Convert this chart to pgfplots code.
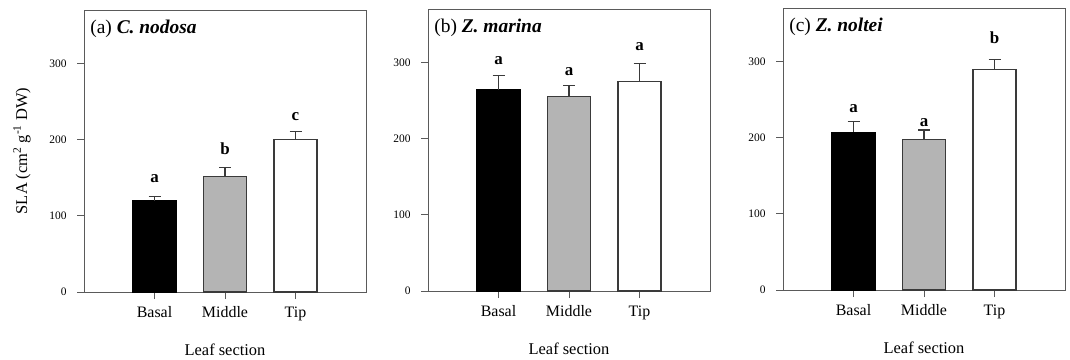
\documentclass[border=0pt]{standalone}
\usepackage{fontspec}
\setmainfont{Liberation Serif}
\usepackage{pgfplots}
\pgfplotsset{compat=1.18}
\definecolor{axisgray}{HTML}{5A5A5A}
\definecolor{bardark}{HTML}{3A3A3A}
\definecolor{midgray}{HTML}{B4B4B4}

\pgfplotstableread{
x y e
1 120 5.5
2 151 12.8
3 200 10.6
}\dataA
\pgfplotstableread{
x y e
1 264 18.5
2 255 15.0
3 275 23.5
}\dataB
\pgfplotstableread{
x y e
1 207 14.5
2 197 13.0
3 289 13.0
}\dataC

\newcommand{\tk}{\fontsize{11.5}{13}\selectfont}
\pgfplotsset{
  panel/.style={
    scale only axis, width=282bp, height=282bp,
    xmin=0, xmax=4, ymin=0, ymax=370,
    xtick={1,2,3}, xticklabels={Basal,Middle,Tip},
    ytick={0,100,200,300}, yticklabels={{\tk 0},{\tk 100},{\tk 200},{\tk 300}},
    axis line style={color=axisgray, line width=0.9bp},
    every tick/.style={color=axisgray, line width=0.9bp},
    tick align=outside,
    major tick length=7bp,
    xtick pos=bottom, ytick pos=left,
    every y tick label/.append style={font=\tk, xshift=-7bp},
    every x tick label/.append style={font=\fontsize{16}{18}\selectfont, yshift=-4bp},
    /pgf/number format/assume math mode=true,
    xlabel={Leaf section},
    xlabel style={font=\fontsize{16.5}{18}\selectfont, anchor=base, at={(axis description cs:0.5,-0.225)}},
    ylabel style={font=\fontsize{16.5}{18}\selectfont, anchor=center, at={(axis description cs:-0.22,0.5)}},
  },
  barA/.style={ybar, bar shift=0pt, bar width=43bp, line width=1.1bp,
    error bars/y dir=plus, error bars/y explicit,
    error bars/error bar style={color=bardark, line width=1.1bp},
    error bars/error mark options={rotate=90, mark size=6bp, line width=1.1bp, color=bardark}},
}

\newcommand{\threebars}[1]{%
  \addplot[barA, fill=black, draw=black] table[x=x, y=y, y error=e, restrict expr to domain={\coordindex}{0:0}] {#1};
  \addplot[barA, fill=midgray, draw=bardark] table[x=x, y=y, y error=e, restrict expr to domain={\coordindex}{1:1}] {#1};
  \addplot[barA, fill=white, draw=bardark] table[x=x, y=y, y error=e, restrict expr to domain={\coordindex}{2:2}] {#1};
}

\begin{document}
\begin{tikzpicture}
\useasboundingbox (0,0) rectangle (1070bp,-360bp);

\begin{axis}[panel, at={(84bp,-292bp)}, anchor=south west,
  ylabel={SLA (cm\textsuperscript{2} g\textsuperscript{-1} DW)}]
\threebars{\dataA}
\node[anchor=base west, font=\fontsize{19.5}{21}\selectfont] at (axis description cs:0.01,0.918) {(a) \textbf{\textit{C. nodosa}}};
\node[anchor=base, font=\fontsize{17}{19}\selectfont\bfseries] at (axis cs:1,143.8) {a};
\node[anchor=base, font=\fontsize{17}{19}\selectfont\bfseries] at (axis cs:2,180.9) {b};
\node[anchor=base, font=\fontsize{17}{19}\selectfont\bfseries] at (axis cs:3,224.5) {c};
\end{axis}

\begin{axis}[panel, at={(428bp,-291bp)}, anchor=south west]
\threebars{\dataB}
\node[anchor=base west, font=\fontsize{19.5}{21}\selectfont] at (axis description cs:0.01,0.918) {(b) \textbf{\textit{Z. marina}}};
\node[anchor=base, font=\fontsize{17}{19}\selectfont\bfseries] at (axis cs:1,296.8) {a};
\node[anchor=base, font=\fontsize{17}{19}\selectfont\bfseries] at (axis cs:2,283.3) {a};
\node[anchor=base, font=\fontsize{17}{19}\selectfont\bfseries] at (axis cs:3,315.3) {a};
\end{axis}

\begin{axis}[panel, at={(783bp,-290bp)}, anchor=south west]
\threebars{\dataC}
\node[anchor=base west, font=\fontsize{19.5}{21}\selectfont] at (axis description cs:0.01,0.918) {(c) \textbf{\textit{Z. noltei}}};
\node[anchor=base, font=\fontsize{17}{19}\selectfont\bfseries] at (axis cs:1,233.0) {a};
\node[anchor=base, font=\fontsize{17}{19}\selectfont\bfseries] at (axis cs:2,214.6) {a};
\node[anchor=base, font=\fontsize{17}{19}\selectfont\bfseries] at (axis cs:3,322.9) {b};
\end{axis}
\end{tikzpicture}
\end{document}
